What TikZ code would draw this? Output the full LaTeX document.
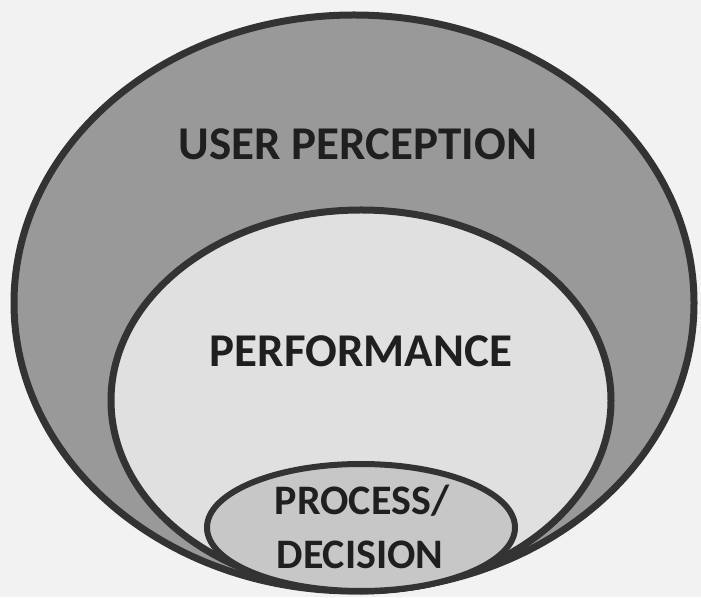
\documentclass[tikz,border=0pt]{standalone}
\usepackage{fontspec}
\setmainfont{Carlito}
\usepackage{tikz}
\definecolor{gris}{rgb}{0.6,0.6,0.6}
\definecolor{grisclair}{rgb}{0.88,0.88,0.88}
\definecolor{grismoyen}{rgb}{0.78,0.78,0.78}
\definecolor{trait}{rgb}{0.2,0.2,0.2}
\definecolor{fond}{rgb}{0.95,0.95,0.95}

\begin{document}
\begin{tikzpicture}[x=1pt, y=1pt]
	% STYLES
	\tikzstyle{bord} = [line width=7pt, draw=trait]
	\tikzstyle{nomzone} = [draw=none, text=black!88, font=\fontsize{47}{50}\selectfont\bfseries, anchor=base, inner sep=0pt]
	\tikzstyle{petitnom} = [nomzone, font=\fontsize{42}{46}\selectfont\bfseries]

	% FOND
	\fill[fond] (0, 0) rectangle (701, 597);
	\useasboundingbox (0, 0) rectangle (701, 597);

	% ZONES
	% user perception
	\draw[bord, fill=gris] (354, 294) ellipse (340 and 288);
	% performance
	\draw[bord, fill=grisclair] (361, 196.5) ellipse (250 and 190.5);
	% process / decision
	\draw[bord, line width=6pt, fill=grismoyen] (361, 69.5) ellipse (154 and 63.5);

	% NOMS
	\node[nomzone] (perception) at (358, 437) {USER PERCEPTION};
	\node[nomzone] (performance) at (361, 230) {PERFORMANCE};
	\node[petitnom] (process) at (362, 82) {PROCESS/};
	\node[petitnom] (decision) at (360, 29) {DECISION};

\end{tikzpicture}
\end{document}
